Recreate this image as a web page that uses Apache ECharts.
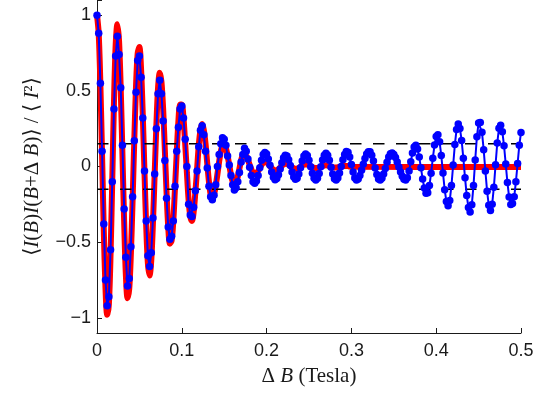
<!DOCTYPE html>
<html><head><meta charset="utf-8">
<script src="https://cdn.jsdelivr.net/npm/echarts@6/dist/echarts.min.js"></script>
<style>html,body{margin:0;padding:0;background:#fff}#c{width:545px;height:393px}</style>
</head><body><div id="c"></div>
<script>
// sampling step of the measured / theory curves (Tesla)
const xStep = 0.002;

// measured correlation (blue dots), x = i * xStep, 0 .. 0.5
const measured = [
  1.00, 0.88, 0.55, 0.10, -0.38, -0.75, -0.92, -0.86, -0.55, -0.10,
  0.38, 0.73, 0.86, 0.74, 0.52, 0.14, -0.28, -0.60, -0.79, -0.74,
  -0.53, -0.20, 0.17, 0.49, 0.70, 0.73, 0.59, 0.32, -0.03, -0.36,
  -0.59, -0.66, -0.57, -0.34, -0.05, 0.25, 0.48, 0.57, 0.48, 0.30,
  0.04, -0.21, -0.40, -0.48, -0.46, -0.36, -0.13, 0.10, 0.26, 0.38,
  0.40, 0.32, 0.18, 0.00, -0.25, -0.32, -0.33, -0.27, -0.16, -0.03,
  0.13, 0.24, 0.27, 0.21, 0.10, -0.01, -0.13, -0.20, -0.22, -0.19,
  -0.12, 0.00, 0.08, 0.15, 0.19, 0.18, 0.14, 0.07, 0.01, -0.06,
  -0.12, -0.155, -0.14, -0.10, -0.04, 0.03, 0.08, 0.12, 0.10, 0.05,
  -0.005, -0.06, -0.10, -0.11, -0.095, -0.059, -0.009, 0.042, 0.079, 0.093,
  0.082, 0.05, 0.008, -0.037, -0.071, -0.087, -0.08, -0.054, -0.016, 0.025,
  0.058, 0.075, 0.07, 0.045, 0.006, -0.036, -0.069, -0.085, -0.078, -0.049,
  -0.008, 0.036, 0.069, 0.083, 0.073, 0.042, -0.001, -0.045, -0.078, -0.09,
  -0.078, -0.046, -0.002, 0.043, 0.075, 0.087, 0.075, 0.041, -0.005, -0.05,
  -0.081, -0.09, -0.076, -0.043, 0.0, 0.045, 0.08, 0.099, 0.094, 0.063,
  0.014, -0.037, -0.076, -0.09, -0.082, -0.059, -0.024, 0.015, 0.053, 0.082,
  0.098, 0.097, 0.075, 0.036, -0.01, -0.053, -0.082, -0.09, -0.078, -0.05,
  -0.013, 0.028, 0.063, 0.085, 0.09, 0.08, 0.059, 0.029, -0.004, -0.037,
  -0.065, -0.084, -0.09, -0.074, -0.029, 0.031, 0.089, 0.129, 0.14, 0.115,
  0.062, -0.009, -0.082, -0.142, -0.176, -0.174, -0.126, -0.044, 0.054, 0.142,
  0.198, 0.21, 0.163, 0.072, -0.043, -0.153, -0.231, -0.26, -0.224, -0.125,
  0.01, 0.145, 0.244, 0.28, 0.251, 0.171, 0.055, -0.075, -0.191, -0.271,
  -0.30, -0.252, -0.125, 0.043, 0.197, 0.288, 0.291, 0.226, 0.11, -0.03,
  -0.163, -0.256, -0.29, -0.249, -0.137, 0.012, 0.155, 0.252, 0.273, 0.23,
  0.137, 0.016, -0.106, -0.202, -0.251, -0.245, -0.20, -0.10, 0.02, 0.14,
  0.224
];

// theory curve (red), x = i * xStep, 0 .. 0.3, then flat to the end point
const theory = [
  1.00, 0.88, 0.54, 0.07, -0.42, -0.80, -0.98, -0.91, -0.58, -0.09,
  0.42, 0.80, 0.94, 0.83, 0.51, 0.08, -0.36, -0.71, -0.87, -0.81,
  -0.57, -0.22, 0.18, 0.53, 0.75, 0.79, 0.64, 0.34, -0.04, -0.39,
  -0.64, -0.72, -0.62, -0.37, -0.05, 0.27, 0.52, 0.62, 0.56, 0.38,
  0.11, -0.17, -0.40, -0.51, -0.49, -0.36, -0.14, 0.09, 0.30, 0.41,
  0.41, 0.32, 0.15, -0.04, -0.22, -0.33, -0.36, -0.30, -0.17, -0.02,
  0.14, 0.24, 0.28, 0.24, 0.15, 0.02, -0.10, -0.185, -0.21, -0.185,
  -0.128, -0.051, 0.031, 0.10, 0.142, 0.148, 0.122, 0.072, 0.009, -0.054,
  -0.10, -0.12, -0.108, -0.068, -0.012, 0.043, 0.078, 0.084, 0.07, 0.044,
  0.012, -0.019, -0.042, -0.05, -0.045, -0.03, -0.01, 0.01, 0.025, 0.03,
  0.027, 0.017, 0.003, -0.01, -0.021, -0.026, -0.024, -0.017, -0.007, 0.004,
  0.013, 0.018, 0.017, 0.012, 0.004, -0.005, -0.012, -0.015, -0.014, -0.009,
  -0.001, 0.007, 0.012, 0.015, 0.013, 0.009, 0.003, -0.004, -0.008, -0.01,
  -0.009, -0.005, -0.001, 0.004, 0.007, 0.008, 0.007, 0.004, 0.0, -0.004,
  -0.006, -0.006, -0.005, -0.002, 0.001, 0.003, 0.004, 0.004, 0.003, 0.0,
  -0.002
];
const theoryEnd = [0.5, -0.003];

// dashed reference levels
const bandLevels = [0.15, -0.15];
const xRange = [0, 0.5];
const yRange = [-1.1, 1.1];

const toPairs = arr => arr.map((v, i) => [+(i * xStep).toFixed(3), v]);
const measuredData = toPairs(measured);
const theoryData = toPairs(theory).concat([theoryEnd]);

const serif = "'Liberation Serif','DejaVu Serif',serif";
const sans = "'Liberation Sans','DejaVu Sans',sans-serif";
const txt = '#1a1a1a';

const nameRich = {
  n: { fontFamily: serif, fontSize: 21, color: txt },
  i: { fontFamily: serif, fontSize: 21, color: txt, fontStyle: 'italic' }
};

const chart = echarts.init(document.getElementById('c'), null, { renderer: 'canvas' });
chart.setOption({
  animation: false,
  backgroundColor: '#fff',
  grid: { left: 97, right: 24, top: -2, bottom: 60, containLabel: false },
  xAxis: {
    type: 'value', min: xRange[0], max: xRange[1], interval: 0.1,
    name: '{n|Δ }{i|B}{n| (Tesla)}', nameLocation: 'middle', nameGap: 33,
    nameTextStyle: { rich: nameRich },
    axisLine: { show: true, onZero: false, lineStyle: { color: txt, width: 1 } },
    axisTick: { show: true, inside: true, length: 5, lineStyle: { color: txt } },
    axisLabel: { color: txt, fontFamily: sans, fontSize: 18, margin: 9 },
    splitLine: { show: false }
  },
  yAxis: {
    type: 'value', min: yRange[0], max: yRange[1], splitNumber: 5,
    name: '{n|⟨}{i|I}{n|(}{i|B}{n|)}{i|I}{n|(}{i|B}{n|+Δ }{i|B}{n|)⟩ / ⟨ }{i|I}{n|²⟩}',
    nameLocation: 'middle', nameGap: 54, nameRotate: 90,
    nameTextStyle: { rich: nameRich },
    axisLine: { show: true, onZero: false, lineStyle: { color: txt, width: 1 } },
    axisTick: { show: true, inside: true, length: 5, lineStyle: { color: txt } },
    axisLabel: {
      color: txt, fontFamily: sans, fontSize: 18, margin: 6,
      formatter: v => {
        if (Math.abs(v) > 1.0001) return '';
        if (Math.abs(v * 2 - Math.round(v * 2)) > 1e-6) return '';
        return String(Math.round(v * 2) / 2).replace('-', '−');
      }
    },
    splitLine: { show: false }
  },
  series: [
    {
      type: 'line', data: theoryData, showSymbol: false, smooth: 0.3,
      lineStyle: { color: '#ff0000', width: 6 }, z: 1
    },
    ...bandLevels.map(lv => ({
      type: 'line', data: [[xRange[0], lv], [xRange[1], lv]], showSymbol: false,
      lineStyle: { color: '#000', width: 1.5, type: [11.5, 11.5] }, z: 2
    })),
    {
      type: 'line', data: measuredData, showAllSymbol: true,
      symbol: 'circle', symbolSize: 7.5,
      itemStyle: { color: '#0000ff' },
      lineStyle: { color: '#0000ff', width: 2 }, z: 3
    }
  ]
});
</script>
</body></html>
